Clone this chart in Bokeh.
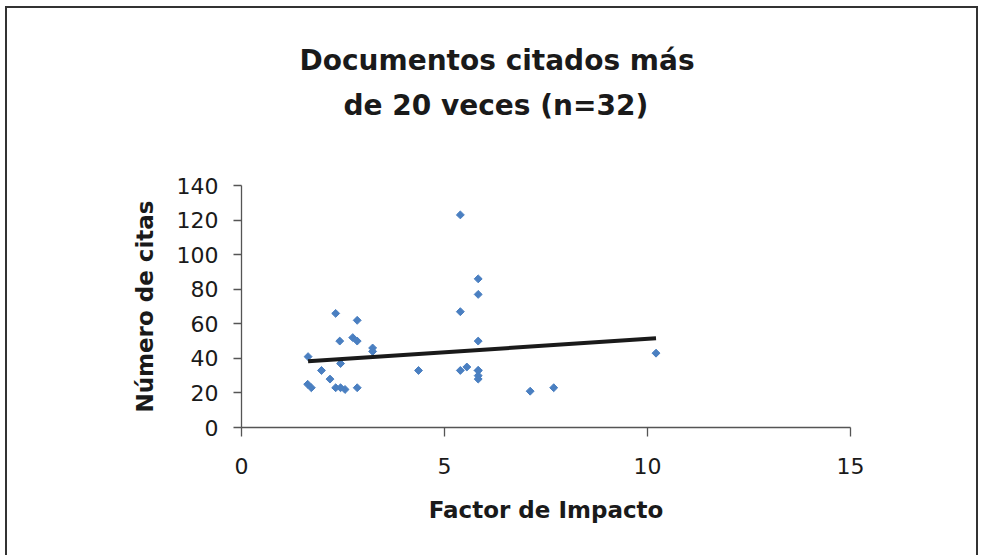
from bokeh.plotting import figure
from bokeh.models import Range1d, FixedTicker, Title, LinearAxis
from bokeh.embed import file_html
from bokeh.resources import INLINE
import numpy as np

# --- data ---
factor_impacto = [2.32, 2.85, 2.42, 2.74, 2.85, 3.23, 3.23, 1.64, 2.44, 1.97,
                  2.18, 1.63, 1.72, 2.32, 2.44, 2.55, 2.85, 4.36, 5.39, 5.83,
                  5.83, 5.39, 5.83, 5.39, 5.55, 5.83, 5.83, 5.83, 7.11, 7.69,
                  10.21, 5.83]
numero_citas = [66, 62, 50, 52, 50, 46, 44, 41, 37, 33,
                28, 25, 23, 23, 23, 22, 23, 33, 123, 86,
                77, 67, 50, 33, 35, 33, 30, 28, 21, 23,
                43, 33]
trend_x = [1.64, 10.21]
trend_y = [38.3, 51.6]
x_ticks = [0, 5, 10, 15]
y_ticks = [0, 20, 40, 60, 80, 100, 120, 140]
title_lines = ["Documentos citados más", "de 20 veces (n=32)"]

FONT = "DejaVu Sans"

p = figure(width=973, height=549, output_backend="svg", toolbar_location=None,
           x_range=Range1d(0, 15), y_range=Range1d(0, 140),
           min_border_left=234, min_border_right=130,
           min_border_top=177, min_border_bottom=130)
p.styles = {"border-top": "2px solid #333", "border-left": "2px solid #333",
            "border-right": "2px solid #333",
            "margin-left": "5px", "margin-top": "6px"}
p.outline_line_color = None
p.xgrid.visible = False
p.ygrid.visible = False
p.background_fill_color = "white"
p.border_fill_color = "white"

for ax, ticks in ((p.xaxis[0], x_ticks), (p.yaxis[0], y_ticks)):
    ax.ticker = FixedTicker(ticks=ticks)
    ax.minor_tick_line_color = None
    ax.axis_line_color = "#555555"
    ax.axis_line_width = 1.3
    ax.major_tick_line_color = "#555555"
    ax.major_tick_line_width = 1.3
    ax.major_tick_in = 0
    ax.major_label_text_font = FONT
    ax.major_label_text_font_size = "22px"
    ax.major_label_text_color = "#1a1a1a"
    ax.axis_label_text_font = FONT
    ax.axis_label_text_font_style = "bold"
    ax.axis_label_text_font_size = "23px"
    ax.axis_label_text_color = "#1a1a1a"

p.xaxis.major_tick_out = 9
p.xaxis.major_label_standoff = 21
p.xaxis.axis_label = "Factor de Impacto"
p.xaxis.axis_label_standoff = 20

p.yaxis.major_tick_out = 8
p.yaxis.major_label_standoff = 15
p.yaxis.axis_label = "Número de citas"
p.yaxis.axis_label_standoff = 16

p.scatter(factor_impacto, numero_citas, marker="square", angle=np.pi / 4,
          size=5.6, fill_color="#4a7fc1", line_color="#4a7fc1")
p.line(trend_x, trend_y, line_color="#1a1a1a", line_width=4)

# invisible spacer (white tick at the right edge) between frame and title
spacer = LinearAxis(ticker=FixedTicker(ticks=[15]), axis_line_color=None,
                    major_tick_line_color="white", minor_tick_line_color=None,
                    major_tick_out=58, major_tick_in=0, minor_tick_out=0,
                    major_label_standoff=0, major_label_text_font_size="0px",
                    major_label_overrides={15: ""})
p.add_layout(spacer, "above")

# title: two lines, nearest-to-frame first
for txt, off in ((title_lines[1], 102), (title_lines[0], 58)):
    p.add_layout(Title(text=txt, align="left", offset=off, standoff=10.4,
                       text_font=FONT, text_font_style="bold",
                       text_font_size="28px", text_color="#1a1a1a"), "above")

open("out.html", "w").write(file_html(p, INLINE))
